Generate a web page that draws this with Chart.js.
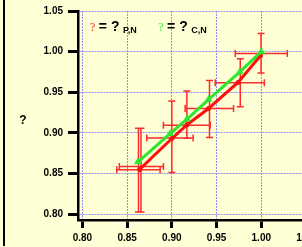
<!DOCTYPE html>
<html><head><meta charset="utf-8">
<script src="https://cdn.jsdelivr.net/npm/chart.js@4"></script>
<style>
html,body{margin:0;padding:0;background:#ffffd6;overflow:hidden;width:302px;height:247px;}
#wrap{position:relative;width:302px;height:247px;overflow:hidden;}
#frame{position:absolute;left:3px;top:0;width:2px;height:246px;background:#000;}
canvas{position:absolute;left:0;top:0;}
</style></head><body>
<div id="wrap"><canvas id="c" width="325" height="247"></canvas><div id="frame"></div></div>
<script>
// ---- data ----
const xTicks = [0.80, 0.85, 0.90, 0.95, 1.00, 1.05];
const xTickLabels = ['0.80', '0.85', '0.90', '0.95', '1.00', '1.05'];
const yTicks = [0.80, 0.85, 0.90, 0.95, 1.00, 1.05];
const yTickLabels = ['0.80', '0.85', '0.90', '0.95', '1.00', '1.05'];

const redX = [0.864, 0.900, 0.917, 0.941, 0.974, 0.999];
const redY = [0.855, 0.893, 0.910, 0.930, 0.962, 0.995];
const greenX = [0.862, 0.898, 0.917, 0.941, 0.976, 1.000];
const greenY = [0.864, 0.899, 0.917, 0.941, 0.975, 1.000];

// error bars: vertical (x, yLow, yHigh) and horizontal (y, xLow, xHigh)
const errVX    = [0.8627, 0.8655, 0.900, 0.9168, 0.9421, 0.9765, 0.9997];
const errVLow  = [0.8024, 0.8024, 0.8513, 0.8932, 0.8944, 0.9322, 0.9738];
const errVHigh = [0.9058, 0.9058, 0.9392, 0.9514, 0.9645, 0.9913, 1.0222];
const errHY    = [0.8545, 0.8586, 0.8937, 0.9095, 0.930, 0.9617, 0.9978];
const errHLow  = [0.8384, 0.8413, 0.872, 0.8906, 0.9149, 0.9485, 0.9709];
const errHHigh = [0.8869, 0.8906, 0.9238, 0.9429, 0.969, 1.0034, 1.0291];

const legendItems = [
  {sym: '?', symColor: '#ff2020', text: '= ?', sub: 'P,N', x: 0.8085},
  {sym: '?', symColor: '#33ee33', text: '= ?', sub: 'C,N', x: 0.8848}
];
const yTitle = '?';

const toPts = (xs, ys) => xs.map((x, i) => ({x: x, y: ys[i]}));

const overlay = {
  id: 'overlay',
  beforeDatasetsDraw(chart) {
    const ctx = chart.ctx, xs = chart.scales.x, ys = chart.scales.y;
    ctx.save();
    ctx.strokeStyle = '#ff2a2a';
    ctx.lineWidth = 1.5;
    const cap = 3.5;
    ctx.beginPath();
    errVX.forEach((v, i) => {
      const px = xs.getPixelForValue(v);
      const p1 = ys.getPixelForValue(errVLow[i]);
      const p2 = ys.getPixelForValue(errVHigh[i]);
      ctx.moveTo(px, p1); ctx.lineTo(px, p2);
      ctx.moveTo(px - cap, p1); ctx.lineTo(px + cap, p1);
      ctx.moveTo(px - cap, p2); ctx.lineTo(px + cap, p2);
    });
    errHY.forEach((v, i) => {
      const py = ys.getPixelForValue(v);
      const p1 = xs.getPixelForValue(errHLow[i]);
      const p2 = xs.getPixelForValue(errHHigh[i]);
      ctx.moveTo(p1, py); ctx.lineTo(p2, py);
      ctx.moveTo(p1, py - cap); ctx.lineTo(p1, py + cap);
      ctx.moveTo(p2, py - cap); ctx.lineTo(p2, py + cap);
    });
    ctx.stroke();
    ctx.restore();
  },
  afterDraw(chart) {
    const ctx = chart.ctx, xs = chart.scales.x;
    ctx.save();
    ctx.textBaseline = 'alphabetic';
    ctx.textAlign = 'left';
    const by = 30.5;
    legendItems.forEach(it => {
      let x = xs.getPixelForValue(it.x);
      ctx.font = '12px "Liberation Serif"';
      ctx.fillStyle = it.symColor;
      ctx.fillText(it.sym, x, by);
      x += ctx.measureText(it.sym).width + 3.5;
      ctx.font = 'bold 14px "Liberation Sans"';
      ctx.fillStyle = '#000';
      ctx.fillText(it.text, x, by);
      x += ctx.measureText(it.text).width + 3.5;
      ctx.font = 'bold 9px "Liberation Sans"';
      ctx.fillText(it.sub, x, by + 2.5);
    });
    ctx.font = 'bold 12px "Liberation Sans"';
    ctx.textAlign = 'center';
    ctx.fillText(yTitle, 23, 124);
    ctx.restore();
  }
};

const gridCommon = {
  color: '#8f8ff2', lineWidth: 1,
  tickColor: '#000', tickWidth: 3, tickBorderDash: []
};
const tickFont = {family: '"Liberation Sans", Arial, sans-serif', size: 10, weight: 'bold'};

new Chart(document.getElementById('c'), {
  type: 'line',
  data: {
    datasets: [
      {
        data: toPts(greenX, greenY), order: 0,
        borderColor: '#2ee62e', backgroundColor: '#2ee62e', borderWidth: 3,
        pointStyle: 'triangle', pointRadius: 4.5, pointBorderWidth: 0, tension: 0
      },
      {
        data: toPts(redX, redY), order: 1,
        borderColor: '#ff1010', backgroundColor: '#ff1010', borderWidth: 3,
        pointStyle: 'circle', pointRadius: 2.5, pointBorderWidth: 0, tension: 0
      }
    ]
  },
  options: {
    responsive: false, animation: false, devicePixelRatio: 1,
    layout: {padding: {top: 9, right: 19, left: 0, bottom: 0}},
    plugins: {legend: {display: false}, tooltip: {enabled: false}},
    scales: {
      x: {
        type: 'linear', min: 0.79508, max: 1.05,
        afterBuildTicks: s => { s.ticks = xTicks.map(v => ({value: v})); },
        afterFit: s => { s.height = 27; },
        ticks: {callback: (v, i) => xTickLabels[i], font: tickFont, color: '#000', padding: 4, maxRotation: 0, autoSkip: false},
        grid: Object.assign({tickLength: 8}, gridCommon),
        border: {display: true, color: '#000', width: 2.5, dash: [2, 1]}
      },
      y: {
        type: 'linear', min: 0.7927, max: 1.05,
        afterBuildTicks: s => { s.ticks = yTicks.map(v => ({value: v})); },
        afterFit: s => { s.width = 78; },
        ticks: {callback: (v, i) => yTickLabels[i], font: tickFont, color: '#000', padding: 5, autoSkip: false},
        grid: Object.assign({tickLength: 10}, gridCommon),
        border: {display: true, color: '#000', width: 2.5, dash: [2, 1]}
      }
    }
  },
  plugins: [overlay]
});
</script>
</body></html>
